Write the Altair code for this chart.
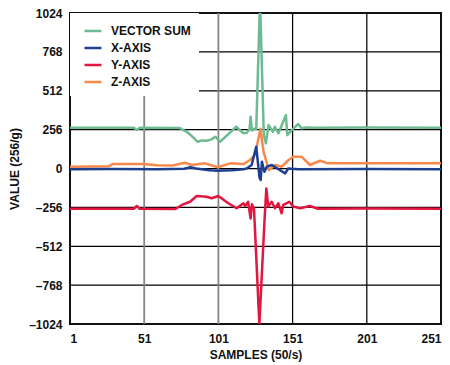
import altair as alt
import pandas as pd

# ---- data ----
vec_x = [1, 44, 46, 48, 75, 80, 84, 87, 90, 93, 96, 99, 102, 107, 113, 117.6, 120, 122, 122.7, 123.6,
         125, 126.5, 128.8, 129.3, 131.6, 133, 134.8, 137.7, 139, 141.5, 146.5, 147.4, 150.4, 154.8,
         157, 160, 166, 200, 251]
vec_y = [268, 268, 254, 268, 266, 240, 205, 176, 185, 183, 190, 209, 176, 220, 275, 234, 234, 260, 341, 250,
         262, 260, 1024, 1024, 220, 166, 286, 242, 275, 232, 352, 220, 253, 293,
         265, 270, 268, 270, 268]

x_x = [1, 30, 60, 78, 82, 86, 89.7, 95, 98.7, 110, 117.8, 120, 123.4, 126.5, 128.7, 129.5, 130.3, 132,
       133.6, 137, 141.5, 146, 148, 155, 200, 251]
x_y = [-5, -3, -5, -2, 8, 0, -5, -12, -14, -12, -5, 0, 23, 143, -60, -76, 45, -21,
       12, 23, -5, -32, 0, -5, -4, -5]

y_x = [1, 44, 46, 48, 72, 76.4, 81.9, 86.4, 93, 96.4, 101, 107.7, 113.3, 117.8, 119, 121, 122.7, 123.6,
       125, 128.6, 132.3, 133.3, 134.6, 136.9, 139.1, 141.4, 143.6, 144.7, 148.8, 151.5, 156, 162.7,
       168, 200, 251]
y_y = [-265, -265, -247, -265, -267, -240, -219, -181, -186, -196, -181, -229, -262, -229, -247, -219, -330, -235,
       -265, -1024, -300, -131, -251, -219, -262, -229, -295, -240, -219, -251, -262, -247,
       -265, -264, -265]

z_x = [1, 27, 30, 50, 60, 70, 78.5, 83, 92, 100.7, 109, 118, 122.3, 125.7, 129.3, 131.4, 135, 139.3,
       143.7, 148.3, 151.5, 157, 162.7, 169.5, 175, 251]
z_y = [12, 14, 30, 30, 22, 20, 38, 23, 34, 8, 34, 30, 56, 89, 262, 111, -10, 23,
       12, 56, 78, 78, 23, 51, 34, 34]

series_names = ["VECTOR SUM", "X-AXIS", "Y-AXIS", "Z-AXIS"]
series_colors = ["#6dbb91", "#1c3f8e", "#e3163f", "#f8894b"]
x_ticks = [1, 51, 101, 151, 201, 251]
y_ticks = [-1024, -768, -512, -256, 0, 256, 512, 768, 1024]

rows = []
for name, xs, ys in [("VECTOR SUM", vec_x, vec_y), ("Y-AXIS", y_x, y_y),
                     ("Z-AXIS", z_x, z_y), ("X-AXIS", x_x, x_y)]:
    for i, (a, b) in enumerate(zip(xs, ys)):
        rows.append({"series": name, "sample": a, "value": b, "idx": i})
df = pd.DataFrame(rows)

xgrid_df = pd.DataFrame({"sample": x_ticks[1:-1]})
ygrid_df = pd.DataFrame({"value": y_ticks[1:-1]})

FONT = "Liberation Sans"

x_scale = alt.Scale(domain=[1, 251], nice=False, zero=False)
y_scale = alt.Scale(domain=[-1024, 1024], nice=False)

x_axis = alt.Axis(values=x_ticks, title="SAMPLES (50/s)", domain=False, ticks=False, grid=False,
                  labelPadding=9, titlePadding=5, labelOverlap=False)
y_axis = alt.Axis(values=y_ticks, title="VALUE (256/g)", domain=False, ticks=False, grid=False,
                  labelPadding=8, titlePadding=7, labelOverlap=False,
                  labelExpr="datum.value < 0 ? '\u2013' + abs(datum.value) : '' + datum.value")

ygrid = alt.Chart(ygrid_df).mark_rule(color="#000000", strokeWidth=1.25).encode(
    y=alt.Y("value:Q", scale=y_scale, axis=y_axis)
)
xgrid = alt.Chart(xgrid_df).mark_rule().encode(
    x=alt.X("sample:Q", scale=x_scale, axis=x_axis),
    color=alt.condition("datum.sample < 125", alt.value("#858585"), alt.value("#000000")),
    strokeWidth=alt.condition("datum.sample < 125", alt.value(1.8), alt.value(1.25)),
)

lines = alt.Chart(df).mark_line(clip=True, strokeWidth=2.5, strokeJoin="round").encode(
    x=alt.X("sample:Q", scale=x_scale, axis=x_axis),
    y=alt.Y("value:Q", scale=y_scale, axis=y_axis),
    color=alt.Color("series:N",
                    scale=alt.Scale(domain=series_names, range=series_colors),
                    legend=alt.Legend(title=None, orient="none", legendX=0, legendY=0,
                                      fillColor="white", padding=8, symbolType="stroke",
                                      symbolSize=289, symbolStrokeWidth=2.5, symbolOffset=5,
                                      labelFontSize=12, labelFontWeight="bold", labelFont=FONT,
                                      labelColor="#111111", labelOffset=8, rowPadding=1)),
    detail="series:N",
    order="idx:Q",
)

chart = alt.layer(ygrid, xgrid, lines).properties(
    width=371, height=311, padding={"left": 62, "top": 5, "right": 1, "bottom": 40},
    autosize=alt.AutoSizeParams(type="none")
).configure_view(stroke="#111111", strokeWidth=2
).configure_axis(labelFont=FONT, titleFont=FONT, labelFontSize=12, titleFontSize=12,
                 labelFontWeight="bold", titleFontWeight="bold", labelColor="#111111",
                 titleColor="#111111")

chart.save("out.html", embed_options={"renderer": "svg", "actions": False})
